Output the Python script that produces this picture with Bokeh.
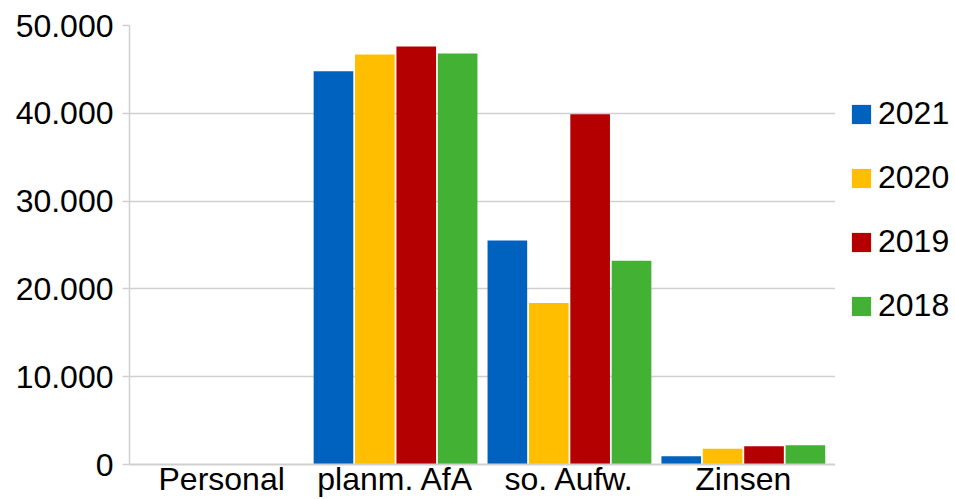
from bokeh.plotting import figure
from bokeh.layouts import row
from bokeh.models import FactorRange, Range1d, FixedTicker, Legend, LegendItem, ColumnDataSource
from bokeh.transform import dodge
from bokeh.embed import file_html
from bokeh.resources import INLINE

categories = ["Personal", "planm. AfA", "so. Aufw.", "Zinsen"]
years = ["2021", "2020", "2019", "2018"]
v2021 = [0, 44800, 25500, 950]
v2020 = [0, 46700, 18400, 1800]
v2019 = [0, 47600, 39900, 2080]
v2018 = [0, 46800, 23200, 2200]
colors = ["#0062BF", "#FFBE00", "#B40000", "#43B134"]
y_ticks = [0, 10000, 20000, 30000, 40000, 50000]
y_tick_labels = ["0", "10.000", "20.000", "30.000", "40.000", "50.000"]

FONT = "Liberation Sans"
FSIZE = "32px"
GRID = "#d0d0d0"

source = ColumnDataSource(dict(cat=categories, y2021=v2021, y2020=v2020, y2019=v2019, y2018=v2018))

p = figure(
    x_range=FactorRange(*categories, range_padding=0.015),
    y_range=Range1d(0, 50000),
    width=835, height=499,
    output_backend="svg", toolbar_location=None,
    min_border_left=129, min_border_top=25, min_border_bottom=34, min_border_right=0,
)

offsets = [-0.357, -0.119, 0.119, 0.357]
cols = ["y2021", "y2020", "y2019", "y2018"]
for col, off, c in zip(cols, offsets, colors):
    p.vbar(x=dodge("cat", off, range=p.x_range), top=col, width=0.228, source=source,
           fill_color=c, line_color=None)

p.outline_line_color = None
p.xgrid.grid_line_color = None
p.ygrid.grid_line_color = GRID
p.ygrid.grid_line_width = 1.5
p.yaxis.ticker = FixedTicker(ticks=y_ticks)
p.yaxis.major_label_overrides = {t: l for t, l in zip(y_ticks, y_tick_labels)}
p.yaxis.axis_line_color = GRID
p.yaxis.axis_line_width = 1.5
p.yaxis.major_tick_line_color = GRID
p.yaxis.major_tick_line_width = 1.5
p.yaxis.major_tick_in = 0
p.yaxis.major_tick_out = 7
p.yaxis.minor_tick_line_color = None
p.yaxis.major_label_standoff = 9
p.yaxis.major_label_text_font = FONT
p.yaxis.major_label_text_font_size = FSIZE
p.yaxis.major_label_text_color = "black"

p.xaxis.axis_line_color = GRID
p.xaxis.axis_line_width = 2
p.xaxis.major_tick_line_color = None
p.xaxis.minor_tick_line_color = None
p.xaxis.major_tick_in = 0
p.xaxis.major_tick_out = 0
p.xaxis.major_label_standoff = -4
p.xaxis.major_label_text_font = FONT
p.xaxis.major_label_text_font_size = FSIZE
p.xaxis.major_label_text_color = "black"

# legend panel
lf = figure(
    x_range=Range1d(0, 1), y_range=Range1d(0, 1),
    width=120, height=499,
    output_backend="svg", toolbar_location=None,
    min_border_left=0, min_border_right=0, min_border_top=0, min_border_bottom=0,
)
lf.axis.visible = False
lf.grid.grid_line_color = None
lf.outline_line_color = None
# zero-height proxy bars: only used to draw the legend swatches
legend_renderers = [lf.vbar(x=[0], top=[0], bottom=[0], width=0.01, fill_color=c, line_color=None)
                    for c in colors]

legend = Legend(
    items=[LegendItem(label=y, renderers=[r]) for y, r in zip(years, legend_renderers)],
    location=(14, 140),
    border_line_color=None,
    background_fill_alpha=0,
    label_text_font=FONT,
    label_text_font_size=FSIZE,
    label_text_color="black",
    glyph_width=24, glyph_height=24,
    label_standoff=5,
    label_height=30,
    spacing=27,
    padding=0,
    margin=0,
)
lf.add_layout(legend, "center")

layout = row(p, lf, spacing=0)
open("out.html", "w").write(file_html(layout, INLINE))
